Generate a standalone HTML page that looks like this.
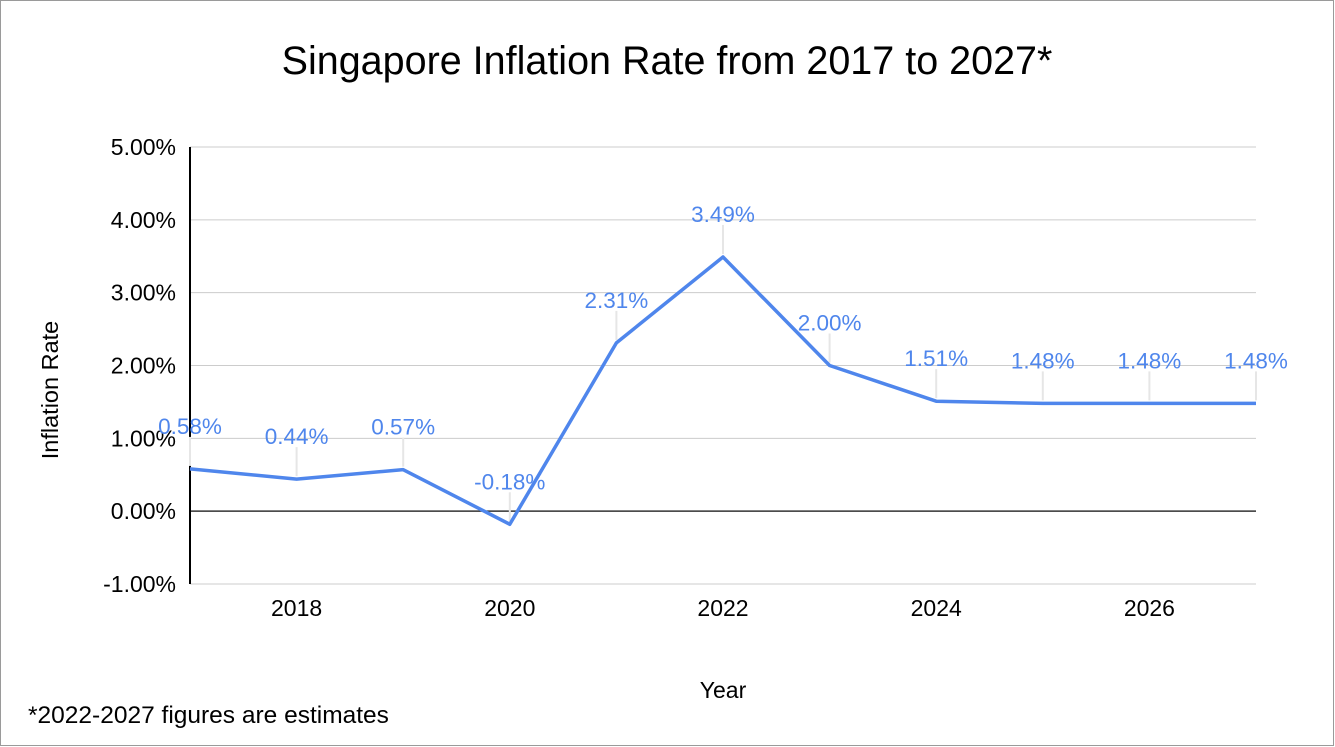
<!DOCTYPE html>
<html><head><meta charset="utf-8"><style>
body{margin:0;background:#fff;}
svg{display:block;font-family:"Liberation Sans",Arial,sans-serif;}
</style></head><body>
<svg id="chart" width="1335" height="747" viewBox="0 0 1335 747">
<rect x="0.5" y="0.5" width="1333" height="745" fill="#fff" stroke="#9a9a9a"/>
<text x="667" y="74" text-anchor="middle" font-size="39.5" fill="#000">Singapore Inflation Rate from 2017 to 2027*</text>
<g id="grid"></g>
<g id="axes"></g>
<g id="series"></g>
<text x="723" y="698" text-anchor="middle" font-size="23" fill="#000">Year</text>
<text transform="translate(58,390) rotate(-90)" text-anchor="middle" font-size="23.5" fill="#000">Inflation Rate</text>
<text x="28" y="723" font-size="24.5" fill="#000">*2022-2027 figures are estimates</text>
</svg>
<script>
const years=[2017,2018,2019,2020,2021,2022,2023,2024,2025,2026,2027];
const rates=[0.58,0.44,0.57,-0.18,2.31,3.49,2.00,1.51,1.48,1.48,1.48];
const yTicks=[-1,0,1,2,3,4,5];
const xTicks=[2018,2020,2022,2024,2026];
const NS='http://www.w3.org/2000/svg';
const x0=190,x1=1256,y0=584,y1=147;
function xs(v){return x0+(v-2017)/(2027-2017)*(x1-x0);}
function ys(v){return y0-(v-(-1))/(5-(-1))*(y0-y1);}
function mk(t,a,p){const e=document.createElementNS(NS,t);for(const k in a)e.setAttribute(k,a[k]);p.appendChild(e);return e;}
const grid=document.getElementById('grid'),axes=document.getElementById('axes'),series=document.getElementById('series');
yTicks.forEach(v=>{
 const l=mk('line',{x1:x0,x2:x1,y1:ys(v),y2:ys(v),stroke:v===0?'#333':'#ccc','stroke-width':v===0?1.5:1},grid);
 
 
 const t=mk('text',{x:176,y:ys(v)+8,'text-anchor':'end','font-size':23,fill:'#000'},axes);
 t.textContent=v.toFixed(2)+'%';
 
 
});
const ax=mk('line',{x1:x0,x2:x0,y1:y1,y2:y0,stroke:'#000','stroke-width':2},axes);


xTicks.forEach(v=>{
 const t=mk('text',{x:xs(v),y:616,'text-anchor':'middle','font-size':23,fill:'#000'},axes);
 t.textContent=v;
 
 
});
years.forEach((yr,i)=>{
 const px=xs(yr),py=ys(rates[i]);
 const tk=mk('line',{x1:px,x2:px,y1:py-32,y2:py-3,stroke:'#e6e6e6','stroke-width':2},series);
 
 
});
const pts=years.map((yr,i)=>xs(yr)+','+ys(rates[i])).join(' ');
const pl=mk('polyline',{points:pts,fill:'none',stroke:'#4f86ec','stroke-width':3.5,'stroke-linejoin':'round'},series);


years.forEach((yr,i)=>{
 const t=mk('text',{x:xs(yr),y:ys(rates[i])-35,'text-anchor':'middle','font-size':22.5,fill:'#4f86ec'},series);
 t.textContent=rates[i].toFixed(2)+'%';
 
 
});
</script>
</body></html>
